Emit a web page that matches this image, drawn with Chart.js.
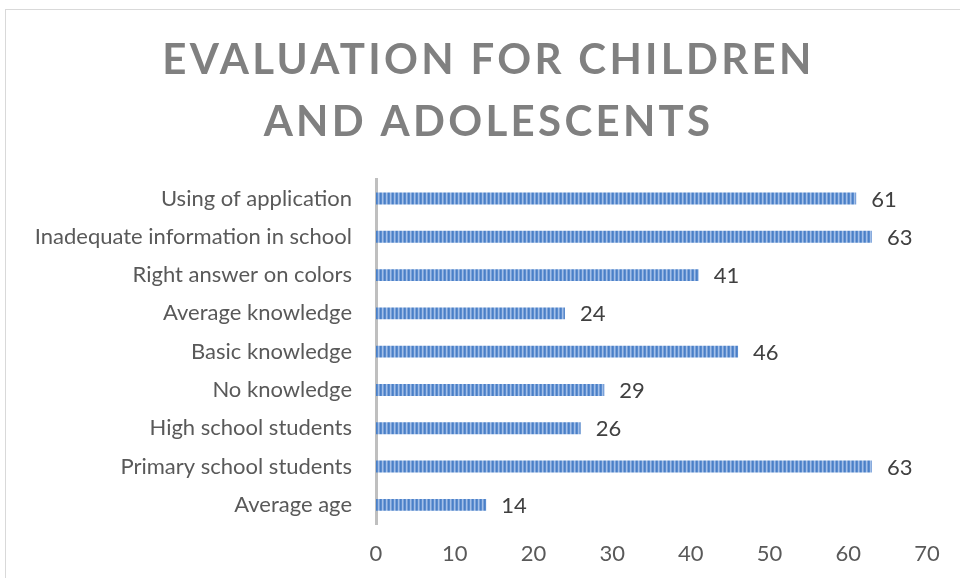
<!DOCTYPE html>
<html>
<head>
<meta charset="utf-8">
<script src="https://cdn.jsdelivr.net/npm/chart.js@4"></script>
<style>
  html, body { margin: 0; padding: 0; background: #fff; }
  #box { width: 960px; height: 578px; }
</style>
</head>
<body>
<div id="box"><canvas id="evalChart" width="960" height="578"></canvas></div>
<script>
let categories = [
    'Using of application',
    'Inadequate information in school',
    'Right answer on colors',
    'Average knowledge',
    'Basic knowledge',
    'No knowledge',
    'High school students',
    'Primary school students',
    'Average age'
];
let values = [61, 63, 41, 24, 46, 29, 26, 63, 14];
let titleLines = ['EVALUATION FOR CHILDREN', 'AND ADOLESCENTS'];

// striped fill like the excel bar texture
function stripes() {
    let c = document.createElement('canvas');
    c.width = 4; c.height = 1;
    let g = c.getContext('2d');
    let cols = ['#4a7fc6', '#5b8dd0', '#a4c0e8', '#7aa1d9'];
    cols.forEach((col, i) => { g.fillStyle = col; g.fillRect(i, 0, 1, 1); });
    return g.createPattern(c, 'repeat');
}

const frame = {
    id: 'frame',
    beforeDraw(chart) {
        let ctx = chart.ctx;
        ctx.save();
        ctx.strokeStyle = '#d9d9d9';
        ctx.lineWidth = 1;
        ctx.strokeRect(5.5, 9.5, 1000, 1000);
        ctx.restore();
        // spaced-out title, shifted to the frame centre
        let tb = chart.titleBlock;
        if (tb && !tb._spaced) {
            let orig = tb.draw;
            tb.draw = function () {
                ctx.save();
                ctx.letterSpacing = '3.3px';
                ctx.translate(25, 0);
                orig.apply(this, arguments);
                ctx.restore();
            };
            tb._spaced = true;
        }
    }
};

const valueLabels = {
    id: 'valueLabels',
    afterDatasetsDraw(chart) {
        let ctx = chart.ctx;
        let meta = chart.getDatasetMeta(0);
        ctx.save();
        ctx.font = '22px Lato';
        ctx.fillStyle = '#404040';
        ctx.textAlign = 'left';
        ctx.textBaseline = 'middle';
        meta.data.forEach((bar, i) => {
            ctx.fillText(String(values[i]), bar.x + 15, bar.y + 1);
        });
        ctx.restore();
    }
};

let ctx = document.getElementById('evalChart').getContext('2d');

let evalChart = new Chart(ctx, {
    type: 'bar',
    data: {
        labels: categories,
        datasets: [{
            data: values,
            backgroundColor: stripes(),
            borderWidth: 0,
            barPercentage: 0.31,
            categoryPercentage: 1.0
        }]
    },
    options: {
        indexAxis: 'y',
        responsive: false,
        animation: false,
        layout: { padding: { left: 0, right: 33, top: 0, bottom: 0 } },
        plugins: {
            legend: { display: false },
            tooltip: { enabled: false },
            title: {
                display: true,
                text: titleLines,
                color: '#808080',
                font: { family: 'Lato', size: 42, weight: 'bold', lineHeight: 1.48 },
                padding: { top: 29, bottom: 26 }
            }
        },
        scales: {
            x: {
                min: 0,
                max: 70,
                ticks: { stepSize: 10, color: '#595959', font: { family: 'Lato', size: 22 }, padding: 9 },
                grid: { display: false },
                border: { display: false },
                afterFit(s) { s.height = 54; }
            },
            y: {
                ticks: { color: '#595959', font: { family: 'Lato', size: 22 }, padding: 16 },
                grid: { display: false },
                border: { color: '#bfbfbf', width: 3 },
                afterFit(s) { s.width = 376; }
            }
        }
    },
    plugins: [frame, valueLabels]
});
</script>
</body>
</html>
